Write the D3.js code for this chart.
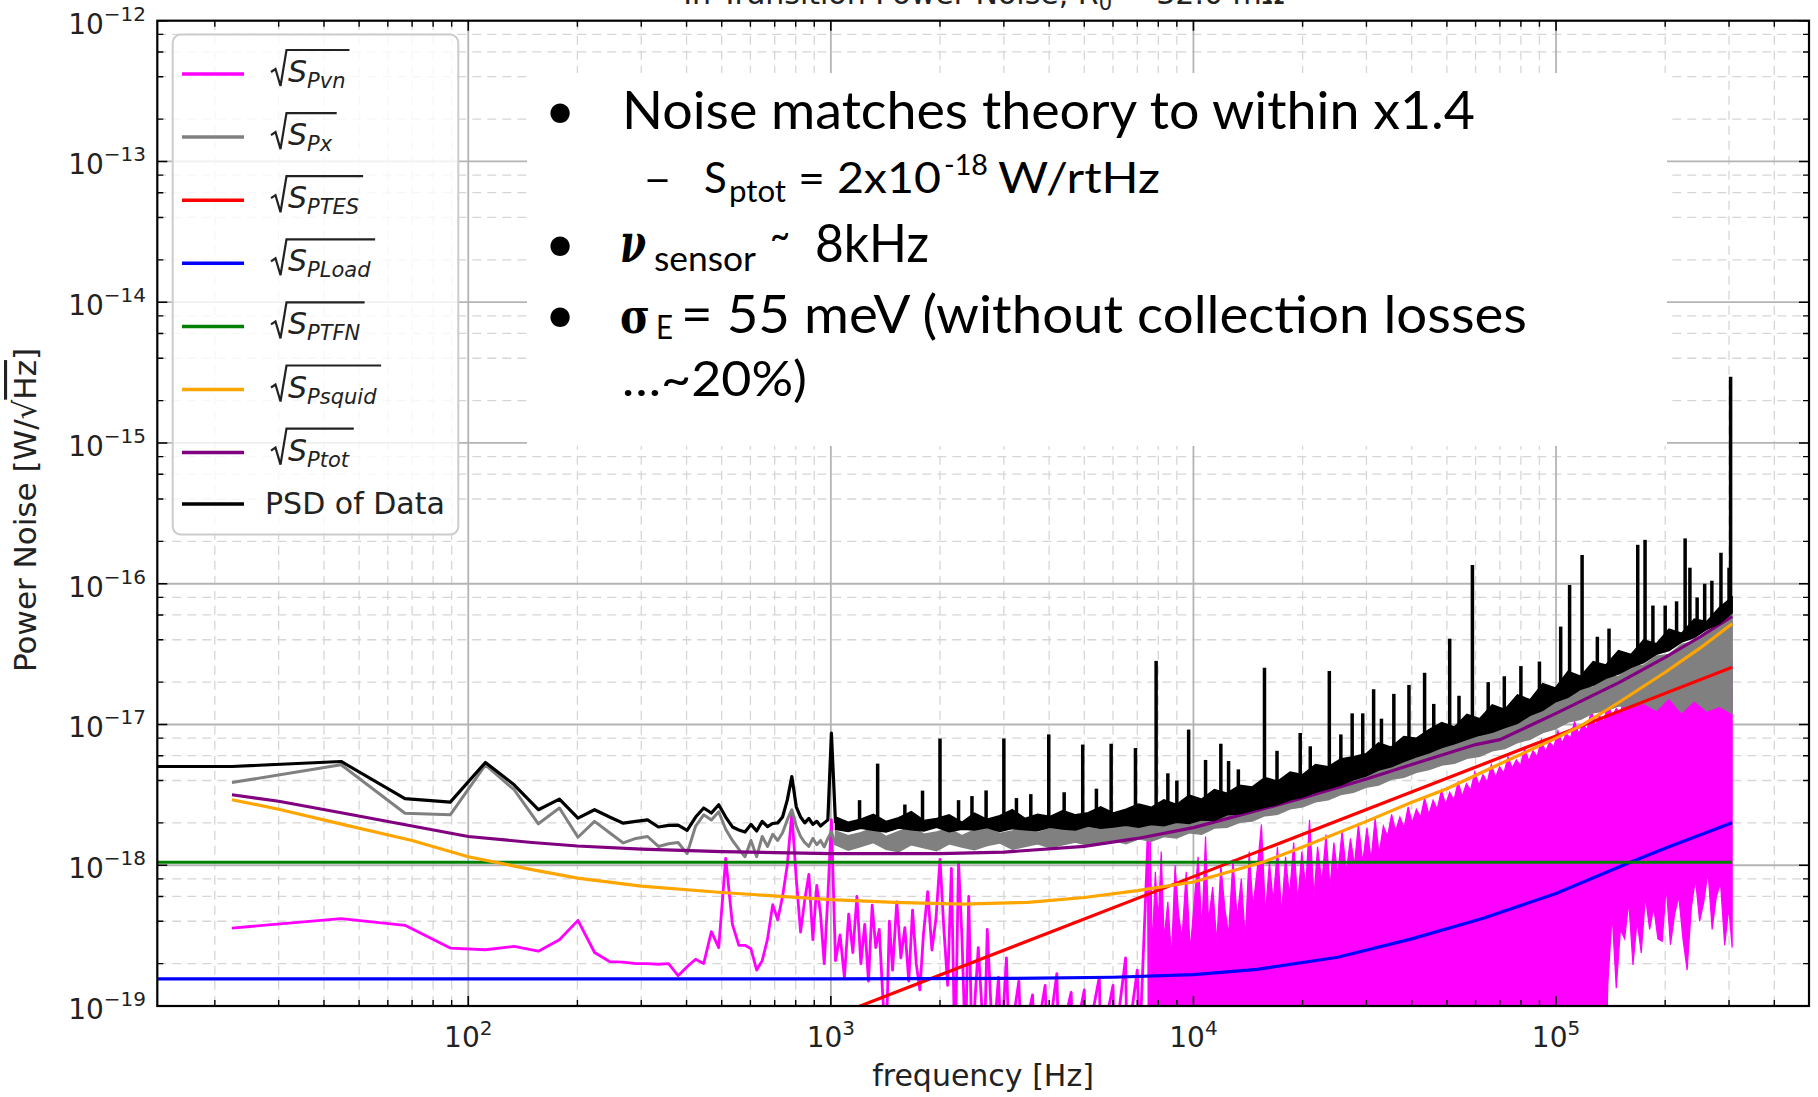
<!DOCTYPE html>
<html><head><meta charset="utf-8">
<script src="https://cdn.jsdelivr.net/npm/d3@7/dist/d3.min.js"></script>
<style>html,body{margin:0;padding:0;background:#fff;}svg{display:block;}</style>
</head><body>
<svg id="chart" width="1818" height="1097"></svg>
<script>
// ================= DATA =================
// Values are in aW/√Hz (1 aW = 1e-18 W); frequencies in Hz.
const xTickExp = [2, 3, 4, 5];
const yTickExp = [-19, -18, -17, -16, -15, -14, -13, -12];
const yMinorSubs = [2, 4, 6, 8];

// PSD of data (black), low-frequency bins
const psdLowF = [1, 22.3, 44.6, 66.9, 89.2, 111.5, 133.8, 156.1, 178.4, 200.7, 223, 245.3, 267.6, 289.9, 312.2, 334.5, 356.8, 379.1, 401.4, 423.7, 446, 468.3, 490.6, 512.9, 535.2, 557.5, 579.8, 602.1, 624.4, 646.7, 669, 691.3, 713.6, 735.9, 758.2, 780.5, 802.8, 825.1, 847.4, 869.7, 892, 914.3, 936.6, 958.9, 981.2, 1003.5, 1030];
const psdLowV = [5.03, 5.03, 5.46, 2.97, 2.81, 5.37, 3.73, 2.48, 2.95, 2.16, 2.48, 2.2, 1.99, 2.05, 2.1, 1.87, 1.92, 1.93, 1.77, 2.2, 2.55, 2.35, 2.69, 2.2, 1.87, 1.78, 1.72, 1.95, 1.75, 2.05, 1.88, 1.98, 2.0, 2.2, 2.9, 4.27, 2.6, 2.2, 2.0, 2.15, 1.95, 2.05, 1.9, 2.0, 2.1, 8.7, 2.0];

// Sqrt(S_Px) (gray), low-frequency bins
const pxLowF = [22.3, 44.6, 66.9, 89.2, 111.5, 133.8, 156.1, 178.4, 200.7, 223, 245.3, 267.6, 289.9, 312.2, 334.5, 356.8, 379.1, 401.4, 423.7, 446, 468.3, 490.6, 512.9, 535.2, 557.5, 579.8, 602.1, 624.4, 646.7, 669, 691.3, 713.6, 735.9, 758.2, 780.5, 802.8, 825.1, 847.4, 869.7, 892, 914.3, 936.6, 958.9, 981.2, 1003.5, 1030];
const pxLowV = [3.87, 5.17, 2.34, 2.28, 5.17, 3.44, 1.97, 2.55, 1.58, 2.05, 1.7, 1.44, 1.55, 1.6, 1.36, 1.42, 1.45, 1.21, 1.9, 2.28, 2.1, 2.4, 1.8, 1.5, 1.3, 1.15, 1.5, 1.15, 1.6, 1.36, 1.66, 1.5, 1.7, 2.1, 2.48, 1.9, 1.6, 1.45, 1.36, 1.55, 1.4, 1.5, 1.35, 1.55, 1.73, 1.4];

// High-frequency dense spectrum: envelopes of the black and gray traces
const bandF = [1030, 1116, 1209, 1310, 1420, 1538, 1667, 1806, 1957, 2120, 2297, 2489, 2697, 2922, 3166, 3430, 3717, 4027, 4363, 4728, 5122, 5550, 6014, 6516, 7060, 7650, 8288, 8980, 9730, 10540, 11420, 12380, 13410, 14530, 15740, 17060, 18480, 20020, 21700, 23510, 25470, 27600, 29900, 32400, 35100, 38030, 41210, 44650, 48380, 52420, 56800, 61540, 66680, 72240, 78280, 84810, 91890, 99560, 107900, 116900, 126600, 137200, 148700, 161100, 174500, 189100, 204900, 222000, 240500, 260600, 282400, 306000];
const psdBandLo = [1.80, 1.74, 1.83, 1.77, 1.72, 1.84, 1.79, 1.75, 1.86, 1.73, 1.80, 1.78, 1.85, 1.74, 1.82, 1.79, 1.76, 1.86, 1.81, 1.78, 1.90, 1.83, 1.87, 1.92, 1.86, 1.95, 1.91, 2.02, 1.98, 2.10, 2.08, 2.28, 2.32, 2.45, 2.58, 2.70, 2.92, 3.05, 3.30, 3.50, 3.72, 4.05, 4.30, 4.75, 5.00, 5.45, 5.90, 6.30, 6.85, 7.30, 7.85, 8.40, 8.80, 9.50, 10.2, 11.6, 12.6, 14.5, 15.6, 17.8, 19.0, 21.3, 22.8, 25.5, 27.5, 31.5, 33.5, 38.5, 41.5, 47.5, 52.0, 62.0];
const psdBandHi = [2.20, 2.02, 2.12, 2.30, 2.05, 2.18, 2.40, 2.08, 2.15, 2.28, 2.02, 2.35, 2.12, 2.25, 2.48, 2.15, 2.30, 2.22, 2.45, 2.28, 2.36, 2.60, 2.35, 2.50, 2.72, 2.58, 2.92, 2.70, 3.15, 2.95, 3.45, 3.25, 3.70, 3.60, 4.20, 3.95, 4.60, 4.40, 5.20, 5.00, 5.70, 5.90, 6.20, 7.40, 6.90, 8.20, 8.00, 9.20, 10.3, 9.60, 11.8, 11.0, 13.8, 12.8, 16.2, 15.0, 19.5, 18.2, 23.8, 22.0, 28.0, 26.5, 33.5, 31.5, 40.0, 37.5, 47.5, 44.5, 56.0, 54.0, 68.0, 80.0];
const pxBandLo = [1.40, 1.28, 1.36, 1.45, 1.30, 1.25, 1.40, 1.33, 1.27, 1.42, 1.35, 1.29, 1.38, 1.44, 1.30, 1.36, 1.42, 1.33, 1.40, 1.46, 1.38, 1.44, 1.50, 1.42, 1.54, 1.48, 1.60, 1.56, 1.70, 1.66, 1.84, 1.86, 2.02, 2.06, 2.25, 2.30, 2.52, 2.60, 2.82, 2.92, 3.18, 3.30, 3.58, 3.72, 4.08, 4.22, 4.58, 4.78, 5.15, 5.30, 5.75, 5.95, 6.50, 6.75, 7.45, 7.85, 8.75, 9.30, 10.4, 10.9, 12.1, 12.5, 13.6, 13.2, 14.2, 12.6, 15.5, 12.2, 14.8, 12.5, 13.5, 12.0];
const pxBandHi = [1.75, 1.62, 1.70, 1.84, 1.60, 1.74, 1.88, 1.66, 1.72, 1.82, 1.62, 1.78, 1.86, 1.68, 1.75, 1.90, 1.70, 1.82, 1.94, 1.78, 1.86, 2.00, 1.90, 2.06, 1.98, 2.18, 2.08, 2.32, 2.22, 2.52, 2.42, 2.78, 2.66, 3.08, 2.96, 3.42, 3.30, 3.84, 3.70, 4.30, 4.15, 4.90, 4.75, 5.55, 5.40, 6.35, 6.20, 7.25, 7.10, 8.35, 8.15, 9.55, 9.35, 11.1, 10.9, 12.9, 12.9, 15.3, 15.4, 18.1, 18.4, 21.6, 21.9, 25.6, 26.4, 30.6, 31.4, 37.1, 38.9, 46.1, 49.8, 62.0];

// Narrow spectral lines of the data (black): frequency, line base, line top
const spikeF    = [1200, 1346, 1600, 1790, 2000, 2250, 2450, 2680, 3000, 3250, 3560, 3990, 4400, 4950, 5400, 5930, 6920, 7890, 8500, 9000, 9700, 10800, 11900, 12500, 13300, 15700, 17000, 19700, 21000, 23700, 25500, 27400, 29300, 31400, 33000, 35700, 39300, 43400, 46000, 50900, 54000, 58800, 65000, 72000, 80000, 90000, 103000, 109000, 118000, 130000, 140000, 168000, 176000, 185000, 200000, 215000, 227000, 234000, 245000, 257000, 269000, 285000, 300000, 303000];
const spikeBase = [2.0, 2.0, 2.0, 2.0, 2.0, 2.0, 2.0, 2.0, 2.0, 2.0, 2.0, 2.0, 2.1, 2.1, 2.1, 2.1, 2.2, 2.3, 2.4, 2.5, 2.5, 2.7, 2.9, 3.0, 3.2, 3.4, 3.7, 4.2, 4.3, 4.6, 4.9, 5.2, 5.5, 6.0, 6.2, 6.6, 7.2, 8.0, 8.4, 9.2, 9.8, 10.5, 11.5, 12.5, 14, 16, 19, 20, 22, 24, 26, 32, 34, 36, 39, 42, 45, 46, 50, 52, 56, 62, 66, 68];
const spikeTop  = [2.9, 5.27, 2.7, 3.39, 7.94, 2.9, 3.1, 3.4, 7.95, 3.0, 3.2, 8.5, 3.3, 7.2, 3.5, 7.3, 6.8, 28.3, 4.5, 4.0, 9.2, 5.6, 7.3, 5.5, 4.8, 25.3, 6.5, 8.7, 7.0, 24, 8.5, 12, 12, 17.8, 11, 16.5, 19.1, 23.3, 14, 40.7, 16, 136, 20, 22, 26, 28, 49.6, 98, 160, 42, 48, 189, 205, 70, 70, 75, 210, 130, 80, 100, 105, 166, 130, 2960];

// Sqrt(S_Pvn) (magenta): resolved trace up to ~7.5 kHz
const pvnF = [22.3, 44.6, 66.9, 89.2, 111.5, 133.8, 156.1, 178.4, 200.7, 223, 245.3, 267.6, 289.9, 312.2, 334.5, 356.8, 379.1, 401.4, 423.7, 446, 468.3, 490.6, 512.9, 535.2, 557.5, 579.8, 602.1, 624.4, 646.7, 669, 691.3, 713.6, 735.9, 758.2, 780.5, 802.8, 825.1, 847.4, 869.7, 892, 914.3, 936.6, 958.9, 981.2, 1003.5, 1030,
  1060, 1090, 1120, 1150, 1180, 1210, 1240, 1270, 1300, 1330, 1360, 1390, 1420, 1450, 1480, 1520, 1560, 1600, 1640, 1680, 1720, 1760, 1800, 1850, 1900, 1950, 2000, 2050, 2100, 2150, 2200, 2250, 2300, 2350, 2400, 2450, 2550, 2650, 2700, 2800, 2900, 2950, 3050, 3100, 3300, 3350, 3600, 3650, 3900, 3950, 4200, 4250, 4600, 4650, 5000, 5050, 5500, 5550, 6000, 6050, 6500, 6550, 7000, 7100, 7500, 7550];
const pvnV = [0.358, 0.417, 0.374, 0.258, 0.251, 0.265, 0.245, 0.296, 0.406, 0.24, 0.207, 0.205, 0.2, 0.2, 0.198, 0.2, 0.164, 0.19, 0.215, 0.2, 0.338, 0.26, 1.12, 0.38, 0.27, 0.27, 0.255, 0.18, 0.21, 0.3, 0.525, 0.41, 0.6, 1.0, 2.34, 0.8, 0.335, 0.57, 0.86, 0.296, 0.72, 0.45, 0.2, 0.6, 2.1, 0.21,
  0.32, 0.16, 0.45, 0.24, 0.6, 0.2, 0.38, 0.15, 0.52, 0.26, 0.35, 0.12, 0.05, 0.4, 0.18, 0.55, 0.22, 0.36, 0.15, 0.48, 0.2, 0.13, 0.32, 0.65, 0.25, 0.42, 1.1, 0.35, 0.14, 0.95, 0.04, 1.05, 0.3, 0.05, 0.6, 0.05, 0.26, 0.05, 0.35, 0.05, 0.16, 0.05, 0.22, 0.05, 0.15, 0.05, 0.12, 0.05, 0.14, 0.05, 0.17, 0.05, 0.125, 0.05, 0.13, 0.05, 0.16, 0.05, 0.14, 0.05, 0.22, 0.05, 0.18, 0.05, 1.65, 0.05];
// Sqrt(S_Pvn) dense region above ~7.6 kHz: envelope (top / bottom)
const magF = [7600, 7700, 7850, 8000, 8150, 8300, 8500, 8700, 8900, 9100, 9300, 9550, 9800, 10050, 10300, 10550, 10800, 11000, 11300, 11600, 11900, 12200, 12500, 12850, 13200, 13550, 13900, 14250, 14600, 15000, 15400, 15800, 16200, 16600, 17050, 17500, 17950, 18400, 18900, 19400, 19900, 20400, 20900, 21500, 22000, 22600, 23200, 23800, 24400, 25000, 25700, 26400, 27100, 27800, 28500, 29300, 30100, 30900, 31700, 32500, 33400, 34300, 35200, 36100, 37100, 38100, 39100, 40100, 41200, 42300, 43400, 44600, 45800, 47000, 48300, 49600, 50900, 52300, 53700, 55100, 56600, 58100, 59700, 61300, 62900, 64600, 66300, 68100, 69900, 71800, 73700, 75700, 77700, 79800, 81900, 84100, 86400, 88700, 91100, 93500, 96000, 98600, 101200, 103900, 106700, 109600, 112500, 115500, 118600, 121800, 125100, 128400, 131900, 135400, 139000, 142800, 146600, 150500, 154600, 158700, 163000, 167300, 171800, 176400, 181200, 186000, 191000, 196200, 201400, 206800, 212400, 218100, 223900, 229900, 236100, 242400, 248900, 255600, 262500, 269500, 276800, 284200, 291800, 299600, 306000];
const magHi = [1.65, 0.25, 0.9, 0.4, 1.25, 0.3, 0.55, 0.22, 1.0, 0.45, 0.3, 0.9, 0.25, 0.55, 1.15, 0.35, 1.6, 0.4, 0.7, 0.28, 1.0, 0.5, 0.32, 1.1, 0.42, 0.8, 0.3, 1.25, 0.5, 0.95, 1.95, 0.45, 1.05, 0.55, 1.35, 0.45, 1.15, 0.6, 1.45, 0.55, 1.25, 0.7, 2.1, 0.6, 1.35, 0.75, 1.65, 0.7, 1.45, 0.85, 1.75, 0.9, 1.55, 1.0, 1.95, 1.05, 1.85, 1.1, 2.15, 1.2, 1.9, 1.6, 2.3, 1.75, 2.2, 1.85, 2.6, 2.0, 2.5, 2.2, 3.0, 2.3, 2.9, 2.5, 3.4, 2.7, 3.3, 2.9, 3.9, 3.1, 3.8, 3.4, 4.6, 3.7, 4.4, 3.9, 5.2, 4.2, 5.0, 4.5, 5.9, 4.9, 5.6, 5.1, 6.8, 5.5, 6.5, 5.9, 7.8, 6.4, 7.5, 6.9, 9.0, 7.4, 8.6, 8.0, 10.5, 8.6, 10.0, 9.2, 12.5, 9.8, 11.5, 10.5, 14, 11.5, 13, 12, 16, 13.5, 24, 15, 22, 17, 20, 16, 24, 18, 22, 19, 26, 20, 24, 21, 30, 23, 27, 22, 28, 24, 30, 23, 31, 26, 29];
const magLo = [0.01, 0.01, 0.01, 0.01, 0.01, 0.01, 0.01, 0.01, 0.01, 0.01, 0.01, 0.01, 0.01, 0.01, 0.01, 0.01, 0.01, 0.01, 0.01, 0.01, 0.01, 0.01, 0.01, 0.01, 0.01, 0.01, 0.01, 0.01, 0.01, 0.01, 0.01, 0.01, 0.01, 0.01, 0.01, 0.01, 0.01, 0.01, 0.01, 0.01, 0.01, 0.01, 0.01, 0.01, 0.01, 0.01, 0.01, 0.01, 0.01, 0.01, 0.01, 0.01, 0.01, 0.01, 0.01, 0.01, 0.01, 0.01, 0.01, 0.01, 0.01, 0.01, 0.01, 0.01, 0.01, 0.01, 0.01, 0.01, 0.01, 0.01, 0.01, 0.01, 0.01, 0.01, 0.01, 0.01, 0.01, 0.01, 0.01, 0.01, 0.01, 0.01, 0.01, 0.01, 0.01, 0.01, 0.01, 0.01, 0.01, 0.01, 0.01, 0.01, 0.01, 0.01, 0.01, 0.01, 0.01, 0.01, 0.01, 0.01, 0.01, 0.01, 0.01, 0.01, 0.01, 0.01, 0.01, 0.01, 0.01, 0.01, 0.01, 0.01, 0.01, 0.01, 0.146, 0.45, 0.134, 0.35, 0.3, 0.55, 0.196, 0.4, 0.238, 0.6, 0.35, 0.5, 0.3, 0.288, 0.7, 0.272, 0.45, 0.6, 0.3, 0.18, 0.5, 0.8, 0.4, 0.55, 0.9, 0.35, 0.6, 0.75, 0.27, 0.5, 0.26];

// Model curves
const tesF = [22.3, 1000, 10000, 100000, 306000];
const tesV = [0.00186, 0.083, 0.83, 8.3, 25.5];
const loadF = [1, 1000, 3000, 6000, 10000, 15000, 25000, 40000, 63000, 100000, 156000, 200000, 306000];
const loadV = [0.156, 0.156, 0.157, 0.16, 0.167, 0.182, 0.222, 0.30, 0.42, 0.63, 1.02, 1.32, 2.0];
const tfnF = [1, 306000];
const tfnV = [1.05, 1.05];
const squidF = [22.3, 30, 45, 70, 100, 150, 200, 300, 500, 1000, 1500, 2300, 3500, 5000, 7000, 10000, 15500, 20000, 30000, 40000, 50000, 69500, 100000, 118000, 150000, 200000, 250000, 306000];
const squidV = [2.92, 2.5, 1.95, 1.5, 1.15, 0.93, 0.81, 0.71, 0.64, 0.57, 0.545, 0.53, 0.545, 0.59, 0.66, 0.76, 1.05, 1.35, 2.05, 2.8, 3.5, 5.2, 8.0, 9.9, 14.5, 23.5, 35, 52];
const totF = [22.3, 30, 45, 70, 100, 150, 200, 300, 500, 1000, 2000, 3000, 5000, 7000, 10000, 15000, 20000, 30000, 40000, 60000, 70000, 100000, 150000, 200000, 250000, 306000];
const totV = [3.17, 2.85, 2.35, 1.9, 1.6, 1.45, 1.37, 1.3, 1.25, 1.21, 1.21, 1.24, 1.36, 1.55, 1.85, 2.45, 3.0, 4.1, 5.2, 7.2, 7.8, 12, 20, 30, 42, 58.5];

const legendSubs = ['Pvn', 'Px', 'PTES', 'PLoad', 'PTFN', 'Psquid', 'Ptot'];
const legendColors = ['#ff00ff', '#808080', '#ff0000', '#0000ff', '#008000', '#ffa500', '#800080', '#000000'];

// ================= LAYOUT =================
const L = 157.3, R = 1809, T = 20.7, B = 1006;
const x = d3.scaleLog().domain([13.88, 498500]).range([L, R]);
const y = d3.scaleLog().domain([0.1, 1e6]).range([B, T]); // aW/√Hz
const pw = e => Math.pow(10, e);

const svg = d3.select('#chart');
svg.append('rect').attr('width', 1818).attr('height', 1097).attr('fill', '#fff');
svg.append('defs').append('clipPath').attr('id', 'pc').append('rect')
  .attr('x', L).attr('y', T).attr('width', R - L).attr('height', B - T);

// ---- grid ----
const xMinor = [];
for (let d = 1; d <= 5; d++) for (let k = 2; k <= 9; k++) { const v = k * pw(d); if (v > x.domain()[0] && v < x.domain()[1]) xMinor.push(v); }
const yMinor = [];
yTickExp.forEach(e => { if (e < -12) yMinorSubs.forEach(k => yMinor.push(k * pw(e + 18))); });
const xMajor = xTickExp.map(pw);
const yMajor = yTickExp.map(e => pw(e + 18));

const grid = svg.append('g');
grid.selectAll('.gxm').data(xMinor).join('line').attr('x1', d => x(d)).attr('x2', d => x(d)).attr('y1', T).attr('y2', B)
  .attr('stroke', '#d6d6d6').attr('stroke-width', 1.3).attr('stroke-dasharray', '9,6');
grid.selectAll('.gym').data(yMinor).join('line').attr('y1', d => y(d)).attr('y2', d => y(d)).attr('x1', L).attr('x2', R)
  .attr('stroke', '#d6d6d6').attr('stroke-width', 1.3).attr('stroke-dasharray', '9,6');
grid.selectAll('.gxM').data(xMajor).join('line').attr('x1', d => x(d)).attr('x2', d => x(d)).attr('y1', T).attr('y2', B)
  .attr('stroke', '#b4b4b4').attr('stroke-width', 1.8);
grid.selectAll('.gyM').data(yMajor.filter(v => y(v) > T + 1 && y(v) < B - 1)).join('line').attr('y1', d => y(d)).attr('y2', d => y(d)).attr('x1', L).attr('x2', R)
  .attr('stroke', '#b4b4b4').attr('stroke-width', 1.8);

// ---- data ----
const plot = svg.append('g').attr('clip-path', 'url(#pc)');
const line = d3.line().x(d => x(d[0])).y(d => y(d[1]));
const area = d3.area().x(d => x(d[0])).y0(d => y(d[1])).y1(d => y(d[2]));

// magenta
plot.append('path').datum(d3.zip(pvnF, pvnV)).attr('d', line).attr('fill', 'none').attr('stroke', '#ff00ff').attr('stroke-width', 2.8).attr('stroke-linejoin', 'round');
plot.append('path').datum(d3.zip(magF, magLo, magHi)).attr('d', area).attr('fill', '#ff00ff').attr('stroke', '#ff00ff').attr('stroke-width', 1.2);
// gray
plot.append('path').datum(d3.zip(pxLowF, pxLowV)).attr('d', line).attr('fill', 'none').attr('stroke', '#808080').attr('stroke-width', 3).attr('stroke-linejoin', 'round');
plot.append('path').datum(d3.zip(bandF, pxBandLo, pxBandHi)).attr('d', area).attr('fill', '#808080').attr('stroke', '#808080').attr('stroke-width', 1.5);
// models
const model = (F, V, c) => plot.append('path').datum(d3.zip(F, V)).attr('d', line).attr('fill', 'none').attr('stroke', c).attr('stroke-width', 3.2);
model(tesF, tesV, '#ff0000');
model(loadF, loadV, '#0000ff');
model(tfnF, tfnV, '#008000');
model(squidF, squidV, '#ffa500');
model(totF, totV, '#800080');
// black
plot.append('path').datum(d3.zip(psdLowF, psdLowV)).attr('d', line).attr('fill', 'none').attr('stroke', '#000').attr('stroke-width', 3.2).attr('stroke-linejoin', 'round');
plot.append('path').datum(d3.zip(bandF, psdBandLo, psdBandHi)).attr('d', area).attr('fill', '#000').attr('stroke', '#000').attr('stroke-width', 1.5);
plot.selectAll('.spk').data(d3.zip(spikeF, spikeBase, spikeTop)).join('line')
  .attr('x1', d => x(d[0])).attr('x2', d => x(d[0])).attr('y1', d => y(d[1])).attr('y2', d => y(d[2]))
  .attr('stroke', '#000').attr('stroke-width', 3.5);

// ---- spines & ticks ----
const ax = svg.append('g').attr('stroke', '#000');
ax.selectAll('.txM').data(xMajor).join('path').attr('d', d => `M${x(d)},${B}v-10M${x(d)},${T}v10`).attr('stroke-width', 1.6);
ax.selectAll('.txm').data(xMinor).join('path').attr('d', d => `M${x(d)},${B}v-6M${x(d)},${T}v6`).attr('stroke-width', 1.4);
ax.selectAll('.tyM').data(yMajor).join('path').attr('d', d => `M${L},${y(d)}h10M${R},${y(d)}h-10`).attr('stroke-width', 1.6);
ax.selectAll('.tym').data(yMinor).join('path').attr('d', d => `M${L},${y(d)}h6M${R},${y(d)}h-6`).attr('stroke-width', 1.4);
ax.append('rect').attr('x', L).attr('y', T).attr('width', R - L).attr('height', B - T).attr('fill', 'none').attr('stroke-width', 2.2);

// ---- tick labels ----
const lab = svg.append('g').attr('font-family', 'DejaVu Sans').attr('fill', '#222');
xTickExp.forEach(e => {
  const t = lab.append('text').attr('x', x(pw(e))).attr('y', 1047).attr('text-anchor', 'middle').attr('font-size', 28);
  t.append('tspan').text('10');
  t.append('tspan').attr('font-size', 20).attr('dy', -12).text(String(e));
});
yTickExp.forEach(e => {
  const t = lab.append('text').attr('x', 146).attr('y', y(pw(e + 18)) + 13).attr('text-anchor', 'end').attr('font-size', 28);
  t.append('tspan').text('10');
  t.append('tspan').attr('font-size', 20).attr('dy', -13).text('\u2212' + Math.abs(e));
});
lab.append('text').attr('x', 983).attr('y', 1086).attr('text-anchor', 'middle').attr('font-size', 30).text('frequency [Hz]');
const yl = lab.append('text').attr('transform', 'translate(36,510) rotate(-90)').attr('text-anchor', 'middle').attr('font-size', 31);
yl.append('tspan').text('Power Noise [W/\u221A');
yl.append('tspan').style('text-decoration', 'overline').text('Hz');
yl.append('tspan').text(']');

// ---- title (cut at top edge, as in the original) ----
const tt = lab.append('text').attr('x', 984).attr('y', 4).attr('text-anchor', 'middle').attr('font-size', 30);
tt.append('tspan').text('In Transition Power Noise, R');
tt.append('tspan').attr('font-size', 21).attr('dy', 6).text('0');
tt.append('tspan').attr('dy', -6).text(' = 32.0 m\u03A9');

// ---- legend ----
const leg = svg.append('g').attr('font-family', 'DejaVu Sans');
leg.append('rect').attr('x', 172.7).attr('y', 34.6).attr('width', 285.6).attr('height', 500).attr('rx', 8)
  .attr('fill', '#fff').attr('fill-opacity', 0.8).attr('stroke', '#cccccc').attr('stroke-width', 2);
legendColors.forEach((c, i) => {
  const yc = i < 7 ? 74 + i * 63.1 : 504;
  leg.append('line').attr('x1', 182).attr('x2', 244).attr('y1', yc).attr('y2', yc).attr('stroke', c).attr('stroke-width', 3.5);
  if (i < 7) {
    const t = leg.append('text').attr('x', 288).attr('y', yc + 8).attr('font-size', 30).attr('font-style', 'italic').attr('fill', '#222');
    t.append('tspan').text('S');
    t.append('tspan').attr('font-size', 21).attr('dy', 6).text(legendSubs[i]);
    const bb = t.node().getBBox();
    leg.append('path').attr('d', `M271,${yc - 2}L275.5,${yc - 5}L280.5,${yc + 12}L286.5,${yc - 24}H${bb.x + bb.width + 4}`)
      .attr('fill', 'none').attr('stroke', '#222').attr('stroke-width', 2.2);
  } else {
    leg.append('text').attr('x', 265).attr('y', yc + 10).attr('font-size', 30).attr('fill', '#222').text('PSD of Data');
  }
});

// ---- text box ----
svg.append('rect').attr('x', 527).attr('y', 73).attr('width', 1140).attr('height', 373).attr('fill', '#fff');
const tb = svg.append('g').attr('font-family', 'Lato, "Open Sans", sans-serif').attr('fill', '#000');
const fit = (el, len) => el.attr('textLength', len).attr('lengthAdjust', 'spacingAndGlyphs');
// bullets (one text element)
const bl = tb.append('text').attr('font-size', 52);
[129, 262, 333].forEach(b => bl.append('tspan').attr('x', 545).attr('y', b).text('\u2022'));
// line 1
fit(tb.append('text').attr('x', 622).attr('y', 129).attr('font-size', 52).text('Noise matches theory to within x1.4'), 853);
// line 2
const l2 = tb.append('text').attr('font-size', 42);
fit(l2.append('tspan').attr('x', 643).attr('y', 193).text('\u2013'), 29);
l2.append('tspan').attr('x', 704).attr('y', 193).text('S');
fit(l2.append('tspan').attr('x', 729).attr('y', 202).attr('font-size', 30).text('ptot'), 57);
fit(l2.append('tspan').attr('x', 798).attr('y', 193).text('= 2x10'), 143);
fit(l2.append('tspan').attr('x', 944).attr('y', 175).attr('font-size', 28).text('-18'), 44);
fit(l2.append('tspan').attr('x', 998).attr('y', 193).text('W/rtHz'), 162);
// line 3
const l3 = tb.append('text').attr('font-size', 52);
fit(l3.append('tspan').attr('x', 620).attr('y', 262).attr('font-size', 54).attr('font-family', 'DejaVu Serif').attr('font-weight', 'bold').attr('font-style', 'italic').text('\u03BD'), 26);
fit(l3.append('tspan').attr('x', 654).attr('y', 271).attr('font-size', 34).text('sensor'), 102);
fit(l3.append('tspan').attr('x', 770).attr('y', 250).attr('font-size', 44).text('~'), 20);
fit(l3.append('tspan').attr('x', 815).attr('y', 262).text('8kHz'), 114);
// line 4
const l4 = tb.append('text').attr('font-size', 52);
fit(l4.append('tspan').attr('x', 620).attr('y', 333).attr('font-size', 48).attr('font-family', 'DejaVu Serif').attr('font-weight', 'bold').text('\u03C3'), 30);
fit(l4.append('tspan').attr('x', 656).attr('y', 339).attr('font-size', 32).text('E'), 17);
fit(l4.append('tspan').attr('x', 681).attr('y', 333).text('= 55 meV (without collection losses'), 846);
// line 5 (wrapped continuation)
fit(tb.append('text').attr('x', 622).attr('y', 396).attr('font-size', 48).text('\u2026~20%)'), 185);
</script>
</body></html>
